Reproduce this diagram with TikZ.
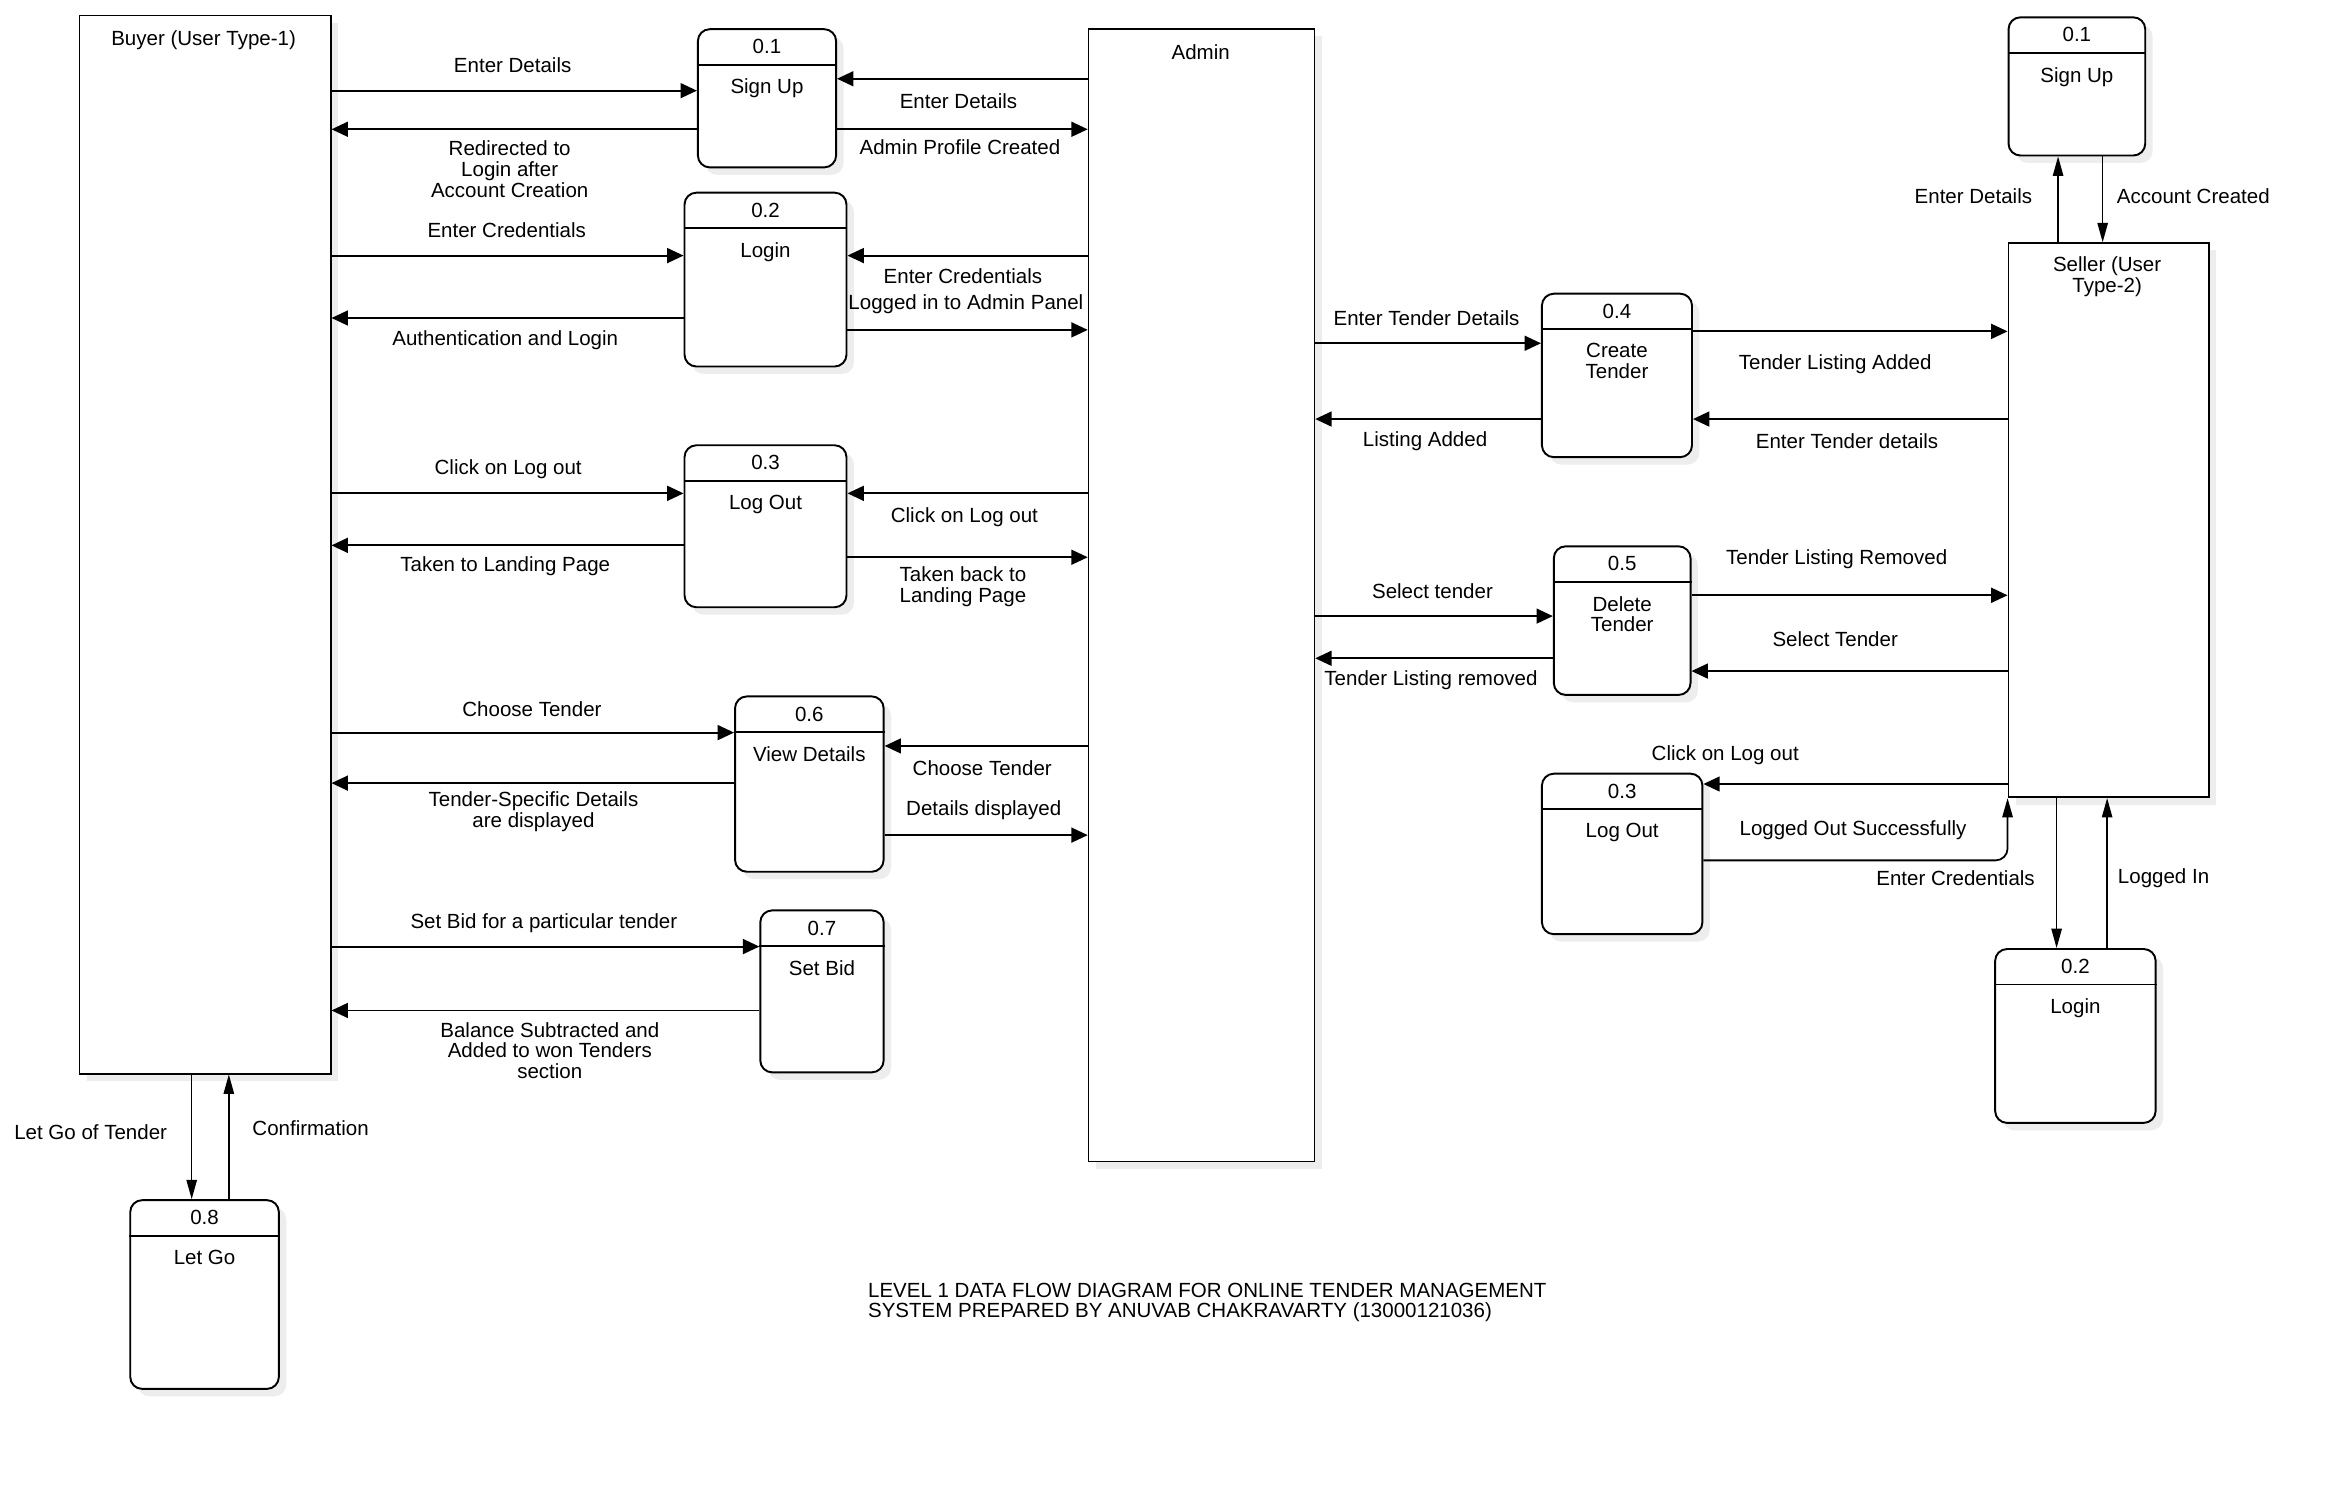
\documentclass[tikz,border=0pt]{standalone}
\usepackage{fontspec}
\setmainfont{Liberation Sans}
\usetikzlibrary{arrows.meta,shadows}
\newcommand\mkproc[7]{%
  \node[proc, minimum width=#4pt, minimum height=#5pt] (#1) at (#2,#3) {};
  \draw[line width=1.3pt] ([yshift=-24.5pt]#1.north west) -- ([yshift=-24.5pt]#1.north east);
  \node (#1num) at ([yshift=-12.5pt]#1.north) {#6};
  \node[anchor=north, align=center, inner sep=0pt] (#1txt) at ([yshift=-34pt]#1.north) {#7};
}
\begin{document}
\begin{tikzpicture}[x=1pt,y=-1pt,
  every node/.style={font=\fontsize{13.8}{14}\selectfont, inner sep=1pt},
  shadowed/.style={drop shadow={shadow xshift=5pt, shadow yshift=-5pt, opacity=1, fill=black!7}},
  ent/.style={draw, line width=1.1pt, fill=white, shadowed, anchor=north west, inner sep=0pt},
  proc/.style={draw, line width=1.3pt, fill=white, rounded corners=8pt, shadowed, anchor=north west, inner sep=0pt},
  arr/.style={line width=1.3pt, -{Triangle[length=11pt,width=10pt]}},
  tarr/.style={line width=0.9pt, -{Triangle[length=13pt,width=7pt]}},
  lbl/.style={align=center}]
\fill[white] (0,0) rectangle (1568,1017);
\useasboundingbox (0,0) rectangle (1568,1017);

% entities
\node[ent, minimum width=169pt, minimum height=712pt] (buyer) at (53,10) {};
\node[ent, minimum width=152pt, minimum height=762pt] (admin) at (732,19) {};
\node[ent, minimum width=135pt, minimum height=373pt] (seller) at (1351,163) {};
\node (buyerlbl) at (137,27) {Buyer (User Type-1)};
\node (adminlbl) at (808,35) {Admin};
\node[lbl] (sellerlbl) at (1418,186) {Seller (User\\Type-2)};

% processes
\mkproc{pb1}{469}{19}{93}{93}{0.1}{Sign Up}
\mkproc{pb2}{460}{129}{109}{117}{0.2}{Login}
\mkproc{pb3}{460}{299}{109}{109}{0.3}{Log Out}
\mkproc{pb6}{494}{468}{100}{118}{0.6}{View Details}
\mkproc{pb7}{511}{612}{83}{109}{0.7}{Set Bid}
\mkproc{pb8}{87}{807}{100}{127}{0.8}{Let Go}
\mkproc{ps4}{1037}{197}{101}{110}{0.4}{Create\\Tender}
\mkproc{ps5}{1045}{367}{92}{100}{0.5}{Delete\\Tender}
\mkproc{ps3}{1037}{520}{108}{108}{0.3}{Log Out}
\mkproc{ps2}{1342}{638}{108}{117}{0.2}{Login}
\mkproc{ps1}{1351}{11}{92}{93}{0.1}{Sign Up}

% buyer flows
\draw[arr] (buyer.east |- 0,61) -- (pb1.west |- 0,61);
\draw[arr] (pb1.west |- 0,87) -- (buyer.east |- 0,87);
\draw[arr] (buyer.east |- 0,172) -- (pb2.west |- 0,172);
\draw[arr] (pb2.west |- 0,214) -- (buyer.east |- 0,214);
\draw[arr] (buyer.east |- 0,332) -- (pb3.west |- 0,332);
\draw[arr] (pb3.west |- 0,367) -- (buyer.east |- 0,367);
\draw[arr] (buyer.east |- 0,493) -- (pb6.west |- 0,493);
\draw[arr] (pb6.west |- 0,527) -- (buyer.east |- 0,527);
\draw[arr] (buyer.east |- 0,637) -- (pb7.west |- 0,637);
\draw[arr] (pb7.west |- 0,680) -- (buyer.east |- 0,680);
\draw[tarr] (buyer.south -| 129,0) -- (pb8.north -| 129,0);
\draw[tarr] (pb8.north -| 154,0) -- (buyer.south -| 154,0);

% admin flows (left)
\draw[arr] (admin.west |- 0,53) -- (pb1.east |- 0,53);
\draw[arr] (pb1.east |- 0,87) -- (admin.west |- 0,87);
\draw[arr] (admin.west |- 0,172) -- (pb2.east |- 0,172);
\draw[arr] (pb2.east |- 0,222) -- (admin.west |- 0,222);
\draw[arr] (admin.west |- 0,332) -- (pb3.east |- 0,332);
\draw[arr] (pb3.east |- 0,375) -- (admin.west |- 0,375);
\draw[arr] (admin.west |- 0,502) -- (pb6.east |- 0,502);
\draw[arr] (pb6.east |- 0,562) -- (admin.west |- 0,562);

% admin / seller flows (right)
\draw[arr] (admin.east |- 0,231) -- (ps4.west |- 0,231);
\draw[arr] (ps4.west |- 0,282) -- (admin.east |- 0,282);
\draw[arr] (seller.west |- 0,282) -- (ps4.east |- 0,282);
\draw[arr] (ps4.east |- 0,223) -- (seller.west |- 0,223);
\draw[arr] (admin.east |- 0,414.6) -- (ps5.west |- 0,414.6);
\draw[arr] (ps5.west |- 0,443) -- (admin.east |- 0,443);
\draw[arr] (ps5.east |- 0,400.6) -- (seller.west |- 0,400.6);
\draw[arr] (seller.west |- 0,451.6) -- (ps5.east |- 0,451.6);
\draw[arr] (seller.west |- 0,527.6) -- (ps3.east |- 0,527.6);
\draw[tarr, line width=1.2pt, rounded corners=8pt] (ps3.east |- 0,579) -| (seller.south west);
\draw[tarr] (seller.north -| 1385,0) -- (ps1.south -| 1385,0);
\draw[tarr] (ps1.south -| 1415,0) -- (seller.north -| 1415,0);
\draw[tarr] (seller.south -| 1384,0) -- (ps2.north -| 1384,0);
\draw[tarr] (ps2.north -| 1418,0) -- (seller.south -| 1418,0);

% labels buyer side
\node (l1) at (345,44) {Enter Details};
\node[lbl] (l2) at (343,114) {Redirected to\\Login after\\Account Creation};
\node (l3) at (341,155) {Enter Credentials};
\node (l4) at (340,229) {Authentication and Login};
\node (l5) at (342,316) {Click on Log out};
\node (l6) at (340,381) {Taken to Landing Page};
\node (l7) at (358,477) {Choose Tender};
\node[lbl] (l8) at (359,546) {Tender-Specific Details\\are displayed};
\node (l9) at (366,621) {Set Bid for a particular tender};
\node[lbl] (l10) at (370,707) {Balance Subtracted and\\Added to won Tenders\\section};
\node (l11) at (61,762) {Let Go of Tender};
\node (l12) at (209,759) {Confirmation};

% labels admin left
\node (l13) at (645,68) {Enter Details};
\node (l14) at (646,99) {Admin Profile Created};
\node (l15) at (648,186) {Enter Credentials};
\node (l16) at (650,205) {Logged in to Admin Panel};
\node (l17) at (649,348) {Click on Log out};
\node[lbl] (l18) at (648,395) {Taken back to\\Landing Page};
\node (l19) at (661,517) {Choose Tender};
\node (l20) at (662,545) {Details displayed};

% labels right
\node (l21) at (960,214) {Enter Tender Details};
\node (l22) at (959,297) {Listing Added};
\node (l23) at (964,398) {Select tender};
\node (l24) at (963,458) {Tender Listing removed};
\node (l25) at (1235,245) {Tender Listing Added};
\node (l26) at (1243,297) {Enter Tender details};
\node (l27) at (1236,376) {Tender Listing Removed};
\node (l28) at (1235,430) {Select Tender};
\node (l29) at (1161,508) {Click on Log out};
\node (l30) at (1247,559) {Logged Out Successfully};
\node (l31) at (1316,591) {Enter Credentials};
\node (l32) at (1456,591) {Logged In};
\node (l33) at (1328,132) {Enter Details};
\node (l34) at (1476,132) {Account Created};

% caption
\node[anchor=west, align=left, inner sep=0pt] (caption) at (584,876.5) {LEVEL 1 DATA FLOW DIAGRAM FOR ONLINE TENDER MANAGEMENT\\SYSTEM PREPARED BY ANUVAB CHAKRAVARTY (13000121036)};
\end{tikzpicture}
\end{document}
